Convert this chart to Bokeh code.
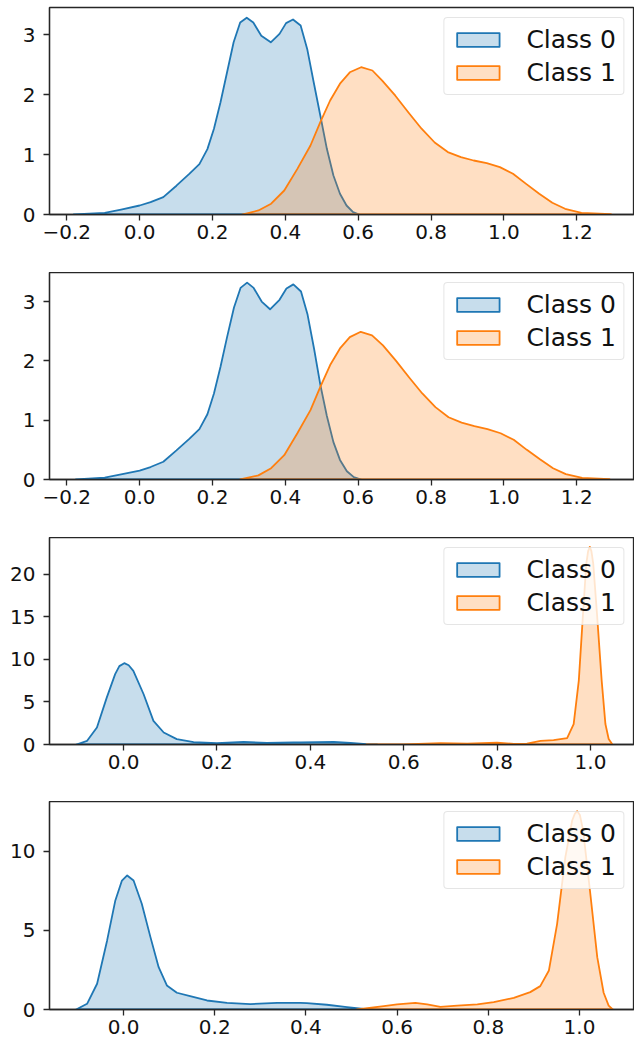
from bokeh.plotting import figure
from bokeh.layouts import column
from bokeh.models import Range1d, FixedTicker, CustomJSTickFormatter, Legend, LegendItem
from bokeh.embed import file_html
from bokeh.resources import INLINE

# ---------------- data ----------------
labels = ["Class 0", "Class 1"]

# Panel 1
p1_c0_x = [-0.181, -0.096, -0.051, 0.0, 0.03, 0.065, 0.101, 0.137, 0.164, 0.186, 0.204, 0.222, 0.24,
           0.258, 0.276, 0.294, 0.312, 0.334, 0.36, 0.384, 0.402, 0.421, 0.442, 0.46, 0.478,
           0.496, 0.514, 0.532, 0.55, 0.568, 0.586, 0.603]
p1_c0_y = [0.0, 0.028, 0.083, 0.15, 0.205, 0.29, 0.48, 0.68, 0.84, 1.09, 1.43, 1.87, 2.37,
           2.87, 3.2, 3.28, 3.2, 2.98, 2.87, 3.01, 3.19, 3.25, 3.15, 2.76, 2.2,
           1.65, 1.095, 0.65, 0.345, 0.15, 0.04, 0.0]
p1_c1_x = [0.281, 0.326, 0.361, 0.397, 0.433, 0.469, 0.496, 0.523, 0.55, 0.577, 0.608, 0.639,
           0.666, 0.702, 0.738, 0.774, 0.81, 0.846, 0.882, 0.917, 0.953, 0.989,
           1.025, 1.061, 1.097, 1.133, 1.168, 1.213, 1.294]
p1_c1_y = [0.0, 0.067, 0.18, 0.4, 0.76, 1.15, 1.54, 1.9, 2.18, 2.37, 2.455, 2.4,
           2.23, 1.98, 1.7, 1.43, 1.2, 1.04, 0.955, 0.9, 0.855, 0.79,
           0.68, 0.51, 0.345, 0.195, 0.095, 0.028, 0.005]

# Panel 2
p2_c0_x = [-0.175, -0.096, -0.051, 0.0, 0.03, 0.065, 0.101, 0.137, 0.164, 0.186, 0.204, 0.222, 0.24,
           0.259, 0.277, 0.295, 0.313, 0.335, 0.358, 0.384, 0.403, 0.422, 0.443, 0.461, 0.479,
           0.496, 0.514, 0.532, 0.55, 0.569, 0.588, 0.608]
p2_c0_y = [0.0, 0.03, 0.085, 0.15, 0.21, 0.3, 0.49, 0.69, 0.85, 1.1, 1.45, 1.9, 2.4,
           2.9, 3.23, 3.32, 3.23, 3.0, 2.87, 3.03, 3.22, 3.29, 3.17, 2.78, 2.2,
           1.6, 1.07, 0.63, 0.33, 0.14, 0.04, 0.0]
p2_c1_x = [0.276, 0.326, 0.361, 0.397, 0.433, 0.469, 0.496, 0.523, 0.55, 0.577, 0.607, 0.638,
           0.668, 0.704, 0.74, 0.776, 0.812, 0.848, 0.884, 0.919, 0.955, 0.991,
           1.027, 1.063, 1.099, 1.135, 1.17, 1.215, 1.29]
p2_c1_y = [0.0, 0.07, 0.19, 0.41, 0.78, 1.17, 1.56, 1.93, 2.21, 2.4, 2.49, 2.43,
           2.26, 2.0, 1.72, 1.45, 1.22, 1.05, 0.96, 0.9, 0.85, 0.78,
           0.67, 0.5, 0.34, 0.19, 0.09, 0.027, 0.005]

# Panel 3
p3_c0_x = [-0.101, -0.078, -0.057, -0.036, -0.018, -0.009, 0.0015, 0.011, 0.021, 0.043, 0.064,
           0.086, 0.114, 0.15, 0.2, 0.257, 0.307, 0.364, 0.379, 0.45, 0.486, 0.52, 0.543]
p3_c0_y = [0.0, 0.43, 2.0, 5.5, 8.26, 9.2, 9.55, 9.3, 8.65, 5.9, 2.78,
           1.41, 0.63, 0.28, 0.16, 0.3, 0.2, 0.25, 0.24, 0.31, 0.2, 0.05, 0.0]
p3_c1_x = [0.52, 0.6, 0.679, 0.736, 0.8, 0.836, 0.864, 0.893, 0.921, 0.95, 0.964, 0.975, 0.984,
           0.991, 0.995, 0.9986, 1.002, 1.006, 1.014, 1.024, 1.032, 1.039, 1.047]
p3_c1_y = [0.0, 0.02, 0.15, 0.1, 0.22, 0.07, 0.1, 0.43, 0.52, 0.75, 2.4, 7.5, 15.3,
           21.2, 22.7, 23.2, 22.7, 21.2, 15.3, 7.5, 2.4, 0.65, 0.0]

# Panel 4
p4_c0_x = [-0.104, -0.08, -0.058, -0.036, -0.018, -0.0035, 0.008, 0.022, 0.04, 0.059, 0.077,
           0.095, 0.117, 0.146, 0.183, 0.227, 0.278, 0.337, 0.388, 0.402, 0.446, 0.49, 0.527, 0.541]
p4_c0_y = [0.0, 0.36, 1.63, 4.37, 6.9, 8.16, 8.48, 8.16, 6.69, 4.58, 2.68,
           1.52, 1.06, 0.84, 0.57, 0.42, 0.34, 0.42, 0.42, 0.4, 0.3, 0.15, 0.04, 0.0]
p4_c1_x = [0.512, 0.571, 0.6, 0.64, 0.666, 0.695, 0.732, 0.776, 0.812, 0.856, 0.892, 0.914, 0.933,
           0.951, 0.969, 0.984, 0.99, 0.995, 1.001, 1.008, 1.023, 1.039, 1.053, 1.064, 1.073]
p4_c1_y = [0.0, 0.21, 0.32, 0.42, 0.32, 0.17, 0.25, 0.32, 0.46, 0.74, 1.1, 1.48, 2.47,
           5.42, 9.64, 11.96, 12.4, 12.55, 12.3, 11.33, 7.53, 3.31, 1.06, 0.25, 0.0]

p12_xticks = [-0.2, 0.0, 0.2, 0.4, 0.6, 0.8, 1.0, 1.2]
p34_xticks = [0.0, 0.2, 0.4, 0.6, 0.8, 1.0]
p12_yticks = [0, 1, 2, 3]
p3_yticks = [0, 5, 10, 15, 20]
p4_yticks = [0, 5, 10]

# ---------------- styling ----------------
BLUE = "#1f77b4"
ORANGE = "#ff7f0e"
INK = "#262626"
FONT = "DejaVu Sans"

xfmt = CustomJSTickFormatter(code="return tick.toFixed(1).replace('-', '\u2212');")
yfmt = CustomJSTickFormatter(code="return tick.toFixed(0);")


def make_panel(c0x, c0y, c1x, c1y, xr, yr, xticks, yticks, height, left, top, bottom):
    p = figure(width=634, height=height, output_backend="svg", toolbar_location=None,
               x_range=Range1d(*xr), y_range=Range1d(*yr),
               min_border_left=left, min_border_right=0, min_border_top=top,
               min_border_bottom=bottom)
    p.xgrid.visible = False
    p.ygrid.visible = False
    p.outline_line_color = INK
    p.outline_line_width = 1.3
    p.background_fill_color = "white"
    p.border_fill_color = "white"

    r0 = p.patch(c0x, c0y, fill_color=BLUE, fill_alpha=0.25, line_color=BLUE, line_width=1.8,
                 line_join="round")
    r1 = p.patch(c1x, c1y, fill_color=ORANGE, fill_alpha=0.25, line_color=ORANGE, line_width=1.8,
                 line_join="round")

    for ax, ticks, fmt in ((p.xaxis[0], xticks, xfmt), (p.yaxis[0], yticks, yfmt)):
        ax.ticker = FixedTicker(ticks=ticks)
        ax.formatter = fmt
        ax.axis_line_color = INK
        ax.axis_line_width = 1.3
        ax.major_tick_line_color = INK
        ax.major_tick_line_width = 1.3
        ax.major_tick_in = 0
        ax.major_tick_out = 6
        ax.minor_tick_line_color = None
        ax.major_label_text_font = FONT
        ax.major_label_text_font_size = "20px"
        ax.major_label_text_color = "#111111"
    p.xaxis[0].major_label_standoff = 4
    p.yaxis[0].major_label_standoff = 8

    leg = Legend(items=[LegendItem(label=labels[0], renderers=[r0]),
                        LegendItem(label=labels[1], renderers=[r1])],
                 location="top_right")
    leg.label_text_font = FONT
    leg.label_text_font_size = "25px"
    leg.label_text_color = "#111111"
    leg.glyph_width = 53
    leg.glyph_height = 17
    leg.label_standoff = 22
    leg.label_height = 24
    leg.spacing = 4
    leg.padding = 7
    leg.margin = 10
    leg.border_line_color = "#cccccc"
    leg.border_line_width = 1.2
    leg.background_fill_alpha = 0.8
    if "border_radius" in Legend.properties():
        leg.border_radius = 4
    p.add_layout(leg)
    return p


p1 = make_panel(p1_c0_x, p1_c0_y, p1_c1_x, p1_c1_y, (-0.2475, 1.3586), (0, 3.45),
                p12_xticks, p12_yticks, 272, 37, 7, 58)
p2 = make_panel(p2_c0_x, p2_c0_y, p2_c1_x, p2_c1_y, (-0.2475, 1.3586), (0, 3.49),
                p12_xticks, p12_yticks, 265, 37, 0, 58)
p3 = make_panel(p3_c0_x, p3_c0_y, p3_c1_x, p3_c1_y, (-0.1586, 1.0943), (0, 24.3),
                p34_xticks, p3_yticks, 264, 49, 0, 57)
p4 = make_panel(p4_c0_x, p4_c0_y, p4_c1_x, p4_c1_y, (-0.1624, 1.1207), (0, 13.16),
                p34_xticks, p4_yticks, 243, 49, 0, 35)

layout = column(p1, p2, p3, p4, spacing=0)
open("out.html", "w").write(file_html(layout, INLINE))
